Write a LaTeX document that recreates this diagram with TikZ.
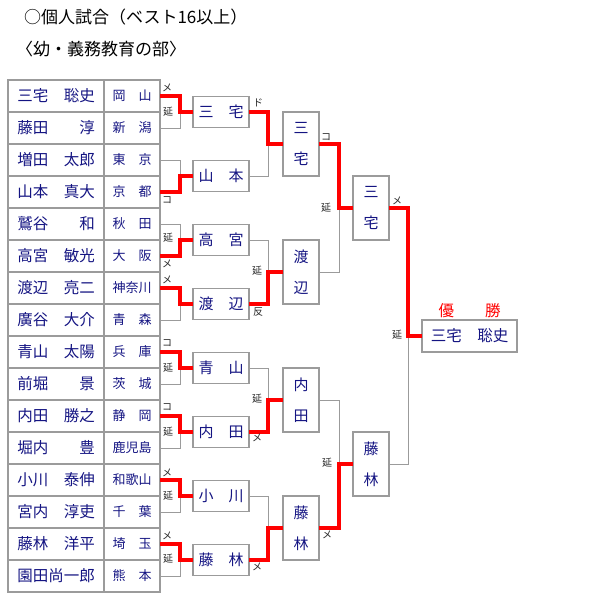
\documentclass[tikz,border=0pt]{standalone}
\usepackage{fontspec}
\setmainfont{Noto Sans CJK JP}
\usetikzlibrary{positioning}
\definecolor{nameBlue}{RGB}{20, 20, 130}
\definecolor{lineGray}{RGB}{155, 155, 155}
\definecolor{winRed}{RGB}{255, 0, 0}

\begin{document}
\begin{tikzpicture}[
        x=1pt, y=-1pt,
        cell/.style={
            rectangle,
            draw=lineGray,
            line width=1.5pt,
            inner sep=0pt,
            outer sep=0pt,
            text=nameBlue
        },
        namecell/.style={
            cell,
            minimum width=96pt,
            minimum height=32pt,
            font=\fontsize{15.5}{15.5}\selectfont
        },
        kencell/.style={
            cell,
            minimum width=56pt,
            minimum height=32pt,
            font=\fontsize{13}{13}\selectfont
        },
        hbox/.style={
            cell,
            fill=white,
            minimum width=56pt,
            minimum height=31pt,
            font=\fontsize{15}{15}\selectfont
        },
        vbox/.style={
            cell,
            fill=white,
            minimum width=36pt,
            minimum height=64pt,
            align=center,
            font=\fontsize{15}{31}\selectfont
        },
        finalbox/.style={
            cell,
            fill=white,
            minimum width=95pt,
            minimum height=32pt,
            font=\fontsize{15.5}{15.5}\selectfont
        },
        lbl/.style={
            inner sep=0pt,
            text=black!85,
            font=\fontsize{10}{10}\selectfont
        },
        lose/.style={
            draw=lineGray,
            line width=1pt
        },
        win/.style={
            draw=winRed,
            line width=4pt
        }
    ]

        \useasboundingbox (0,0) rectangle (600,600);

        % title
        \node[anchor=west, inner sep=0pt, font=\fontsize{17}{17}\selectfont] (title) at (24,17) {○個人試合（ベスト16以上）};
        \node[anchor=west, inner sep=0pt, font=\fontsize{17}{17}\selectfont] (sub) at (16,49) {〈幼・義務教育の部〉};

        % players
        \foreach \nm/\kn [count=\i] in {三宅　聡史/岡　山, 藤田　　淳/新　潟, 増田　太郎/東　京, 山本　真大/京　都,
                                        鷲谷　　和/秋　田, 高宮　敏光/大　阪, 渡辺　亮二/神奈川, 廣谷　大介/青　森,
                                        青山　太陽/兵　庫, 前堀　　景/茨　城, 内田　勝之/静　岡, 堀内　　豊/鹿児島,
                                        小川　泰伸/和歌山, 宮内　淳吏/千　葉, 藤林　洋平/埼　玉, 園田尚一郎/熊　本} {
            \node[namecell] (n\i) at (56, 64+32*\i) {\nm};
            \node[kencell, right=0pt of n\i] (k\i) {\kn};
        }

        % second round
        \node[hbox] (m1) at (221,112) {三　宅};
        \node[hbox] (m2) at (221,176) {山　本};
        \node[hbox] (m3) at (221,240) {高　宮};
        \node[hbox] (m4) at (221,304) {渡　辺};
        \node[hbox] (m5) at (221,368) {青　山};
        \node[hbox] (m6) at (221,432) {内　田};
        \node[hbox] (m7) at (221,496) {小　川};
        \node[hbox] (m8) at (221,560) {藤　林};

        % quarter finals
        \node[vbox] (s1) at (301,144) {三\\宅};
        \node[vbox] (s2) at (301,272) {渡\\辺};
        \node[vbox] (s3) at (301,400) {内\\田};
        \node[vbox] (s4) at (301,528) {藤\\林};

        % semi finals
        \node[vbox] (q1) at (371,208) {三\\宅};
        \node[vbox] (q2) at (371,464) {藤\\林};

        % winner
        \node[finalbox] (champ) at (469.5,336) {三宅　聡史};
        \node[inner sep=0pt, text=winRed, font=\fontsize{15.5}{15.5}\selectfont, above=2pt of champ] (yusho) {優　　勝};

        % bracket lines
        \foreach \w/\l/\t/\d in {k1/k2/m1/20, k4/k3/m2/20, k6/k5/m3/20, k7/k8/m4/20,
                                 k9/k10/m5/20, k11/k12/m6/20, k13/k14/m7/20, k15/k16/m8/20,
                                 m1/m2/s1/19, m4/m3/s2/19, m6/m5/s3/19, m8/m7/s4/19,
                                 s1/s2/q1/20, s4/s3/q2/20, q1/q2/champ/19} {
            \draw[lose] (\l.east) -- ++(\d,0) |- (\t.west);
            \draw[win] (\w.east) -- ++(\d,0) |- (\t.west);
        }

        % kimarite
        \foreach \x/\y/\t [count=\j] in {167/88/メ, 168/112/延, 167/200/コ, 168/238/延, 167/264/メ, 167/280/メ,
                                         167/343/コ, 168/368/延, 167/407/コ, 168/432/延, 167/473/メ, 168/496/延,
                                         167/536/メ, 168/559/延,
                                         258/103/ド, 257/271/延, 258/312/反, 257/399/延, 257/438/メ, 257/567/メ,
                                         326/137/コ, 326/208/延, 327/463/延, 327/535/メ,
                                         397/201/メ, 397/335/延} {
            \node[lbl] (lb\j) at (\x,\y) {\t};
        }

    \end{tikzpicture}
\end{document}
